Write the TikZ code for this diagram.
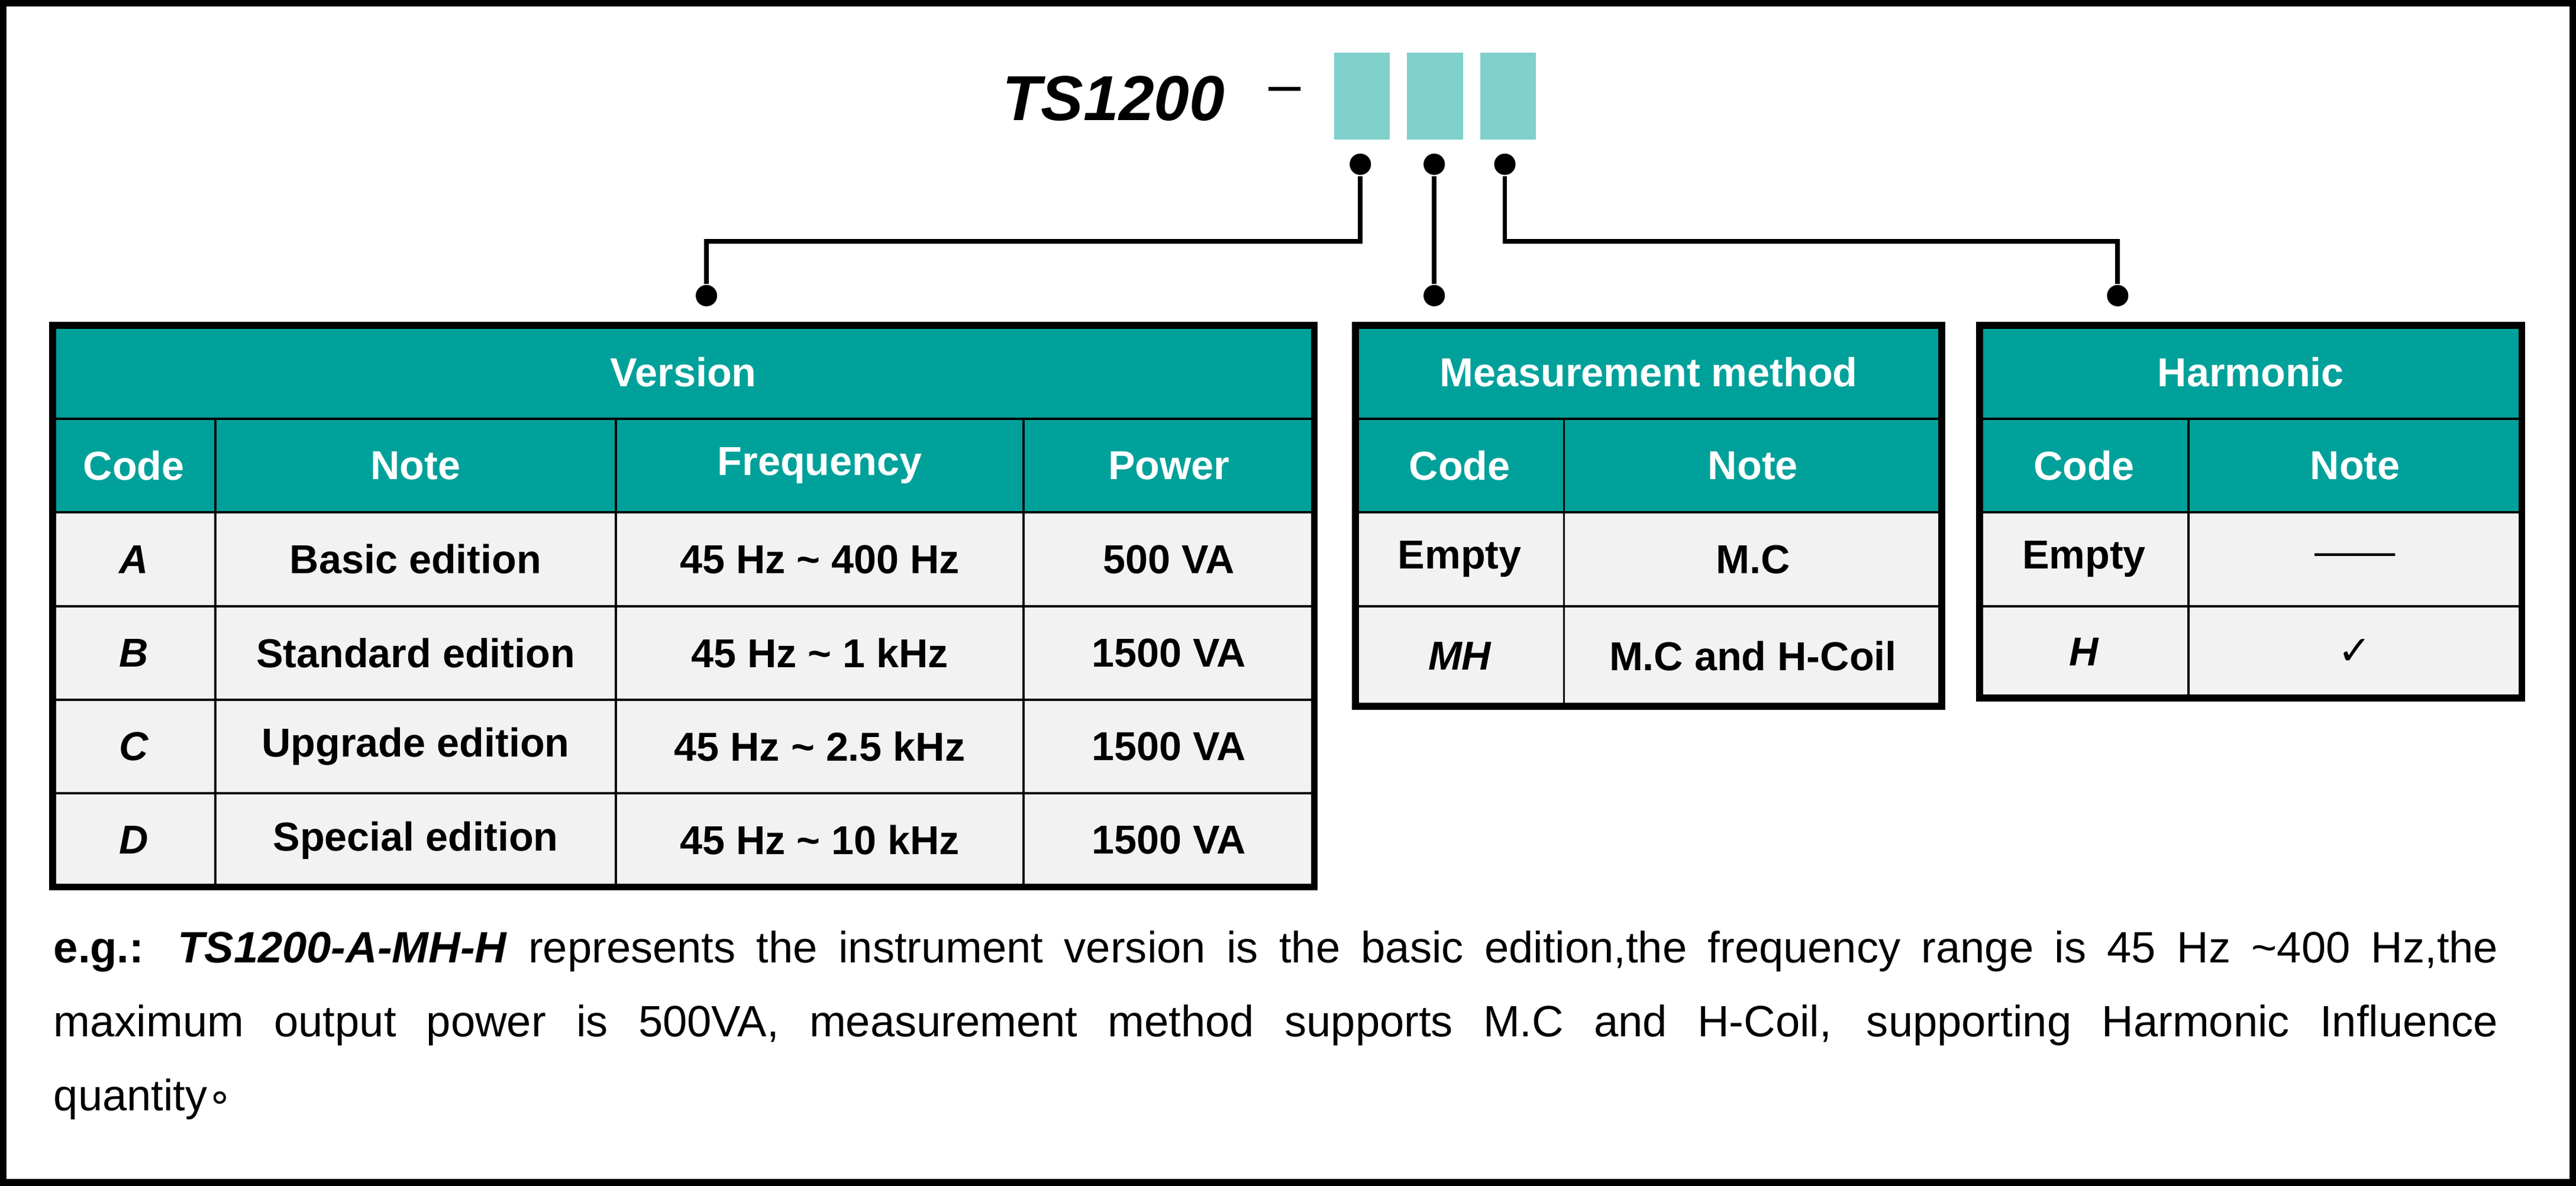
\documentclass[tikz,border=0pt]{standalone}
\usepackage{fontspec}
\setmainfont{Liberation Sans}
\newfontfamily\symfont{DejaVu Sans}
\usetikzlibrary{positioning}
\definecolor{teal1}{HTML}{00A19A}
\definecolor{teal2}{HTML}{80D0CB}
\definecolor{cellgray}{HTML}{F2F2F2}
\tikzset{
  hdr/.style={draw=black,fill=teal1},
  hdrtext/.style={text=white,font=\fontsize{7}{8}\selectfont\bfseries},
  cell/.style={draw=black,fill=cellgray},
  celltext/.style={text=black,font=\fontsize{7}{8}\selectfont\bfseries},
  slot/.style={fill=teal2,minimum width=0.34cm,minimum height=0.53cm,inner sep=0pt},
  dot/.style={circle,fill=black,inner sep=0pt,minimum size=0.13cm},
  wire/.style={line width=0.8pt}
}
% one table cell: #1 style, #2 name, #3 x0, #4 x1, #5 y0, #6 y1, #7 text
\newcommand{\tcell}[7]{%
  \path[#1] (#3/100,-#5/100) rectangle (#4/100,-#6/100);
  \node[#1text] (#2) at ({(#3+#4)/200},{-(#5+#6)/200}) {#7};}
\begin{document}
\begin{tikzpicture}[x=1cm,y=1cm]
  \useasboundingbox (0,0) rectangle (15.68,-7.22);
  \draw[line width=1.2pt] (0.02,-0.02) rectangle (15.66,-7.20);

  % part number
  \node[font=\fontsize{11}{13}\selectfont\bfseries\itshape,anchor=east] (title) at (7.58,-0.60) {TS1200};
  \node[font=\fontsize{10}{12}\selectfont] (dash) at (7.82,-0.58) {–};
  \node[slot] (s1) at (8.29,-0.585) {};
  \node[slot] (s2) at (8.735,-0.585) {};
  \node[slot] (s3) at (9.18,-0.585) {};
  \node[dot] (d1) at (8.28,-1.00) {};
  \node[dot] (d2) at (8.73,-1.00) {};
  \node[dot] (d3) at (9.16,-1.00) {};
  \node[dot] (e1) at (4.30,-1.80) {};
  \node[dot] (e2) at (8.73,-1.80) {};
  \node[dot] (e3) at (12.89,-1.80) {};
  \draw[wire] (d1) |- (6.0,-1.47) -| (e1);
  \draw[wire] (d2) -- (e2);
  \draw[wire] (d3) |- (11.0,-1.47) -| (e3);

  % Version table
  \tcell{hdr}{v}{32}{800}{198}{255}{Version}
  \tcell{hdr}{vc}{32}{131}{255}{312}{Code}
  \tcell{hdr}{vn}{131}{375}{255}{312}{Note}
  \tcell{hdr}{vf}{375}{623}{255}{312}{Frequency}
  \tcell{hdr}{vp}{623}{800}{255}{312}{Power}
  \foreach \c/\n/\f/\p [count=\i] in {
      A/Basic edition/45 Hz \textasciitilde{} 400 Hz/500 VA,
      B/Standard edition/45 Hz \textasciitilde{} 1 kHz/1500 VA,
      C/Upgrade edition/45 Hz \textasciitilde{} 2.5 kHz/1500 VA,
      D/Special edition/45 Hz \textasciitilde{} 10 kHz/1500 VA}{
    \pgfmathtruncatemacro{\ya}{312+57*(\i-1)}
    \pgfmathtruncatemacro{\yb}{312+57*\i}
    \tcell{cell}{vc\i}{32}{131}{\ya}{\yb}{\itshape\c}
    \tcell{cell}{vn\i}{131}{375}{\ya}{\yb}{\n}
    \tcell{cell}{vf\i}{375}{623}{\ya}{\yb}{\f}
    \tcell{cell}{vp\i}{623}{800}{\ya}{\yb}{\p}
  }
  \draw[line width=1.2pt] (0.32,-1.98) rectangle (8.00,-5.40);

  % Measurement method table
  \tcell{hdr}{m}{825}{1182}{198}{255}{Measurement method}
  \tcell{hdr}{mc}{825}{952}{255}{312}{Code}
  \tcell{hdr}{mn}{952}{1182}{255}{312}{Note}
  \tcell{cell}{mc1}{825}{952}{312}{369}{Empty}
  \tcell{cell}{mn1}{952}{1182}{312}{369}{M.C}
  \tcell{cell}{mc2}{825}{952}{369}{430}{\itshape MH}
  \tcell{cell}{mn2}{952}{1182}{369}{430}{M.C and H-Coil}
  \draw[line width=1.2pt] (8.25,-1.98) rectangle (11.82,-4.30);

  % Harmonic table
  \tcell{hdr}{h}{1205}{1535}{198}{255}{Harmonic}
  \tcell{hdr}{hc}{1205}{1332}{255}{312}{Code}
  \tcell{hdr}{hn}{1332}{1535}{255}{312}{Note}
  \tcell{cell}{hc1}{1205}{1332}{312}{369}{Empty}
  \tcell{cell}{hn1}{1332}{1535}{312}{369}{\mdseries ——}
  \tcell{cell}{hc2}{1205}{1332}{369}{425}{\itshape H}
  \tcell{cell}{hn2}{1332}{1535}{369}{425}{\symfont\mdseries ✓}
  \draw[line width=1.2pt] (12.05,-1.98) rectangle (15.35,-4.25);

  % example text
  \node[anchor=north west,inner sep=0pt,text width=14.88cm,align=justify,
        font=\fontsize{7.6}{12.8}\selectfont] (eg) at (0.32,-5.66)
    {\textbf{e.g.: \textit{TS1200-A-MH-H}} represents the instrument version is the basic edition,the frequency range is 45 Hz \textasciitilde400 Hz,the\linebreak
     maximum output power is 500VA, measurement method supports M.C and H-Coil, supporting Harmonic Influence\linebreak
     quantity{\symfont\scriptsize ∘}};
\end{tikzpicture}
\end{document}
